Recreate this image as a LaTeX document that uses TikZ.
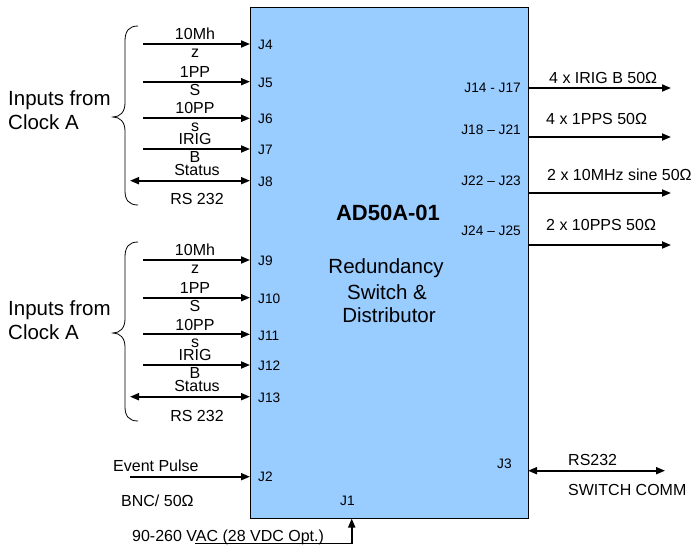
\documentclass[tikz,border=0pt]{standalone}
\usepackage{fontspec}
\setmainfont{Liberation Sans}
\usetikzlibrary{arrows.meta}
\definecolor{boxblue}{HTML}{99CCFF}
\begin{document}
\begin{tikzpicture}[x=1pt,y=-1pt,
  lbl/.style={inner sep=0pt, font=\fontsize{16}{19}\selectfont},
  big/.style={inner sep=0pt, font=\fontsize{20.5}{24}\selectfont},
  jl/.style={inner sep=0pt, font=\fontsize{13.7}{16}\selectfont},
  arr/.style={line width=1.8pt, -{Triangle[length=9pt,width=7pt]}},
  darr/.style={line width=1.8pt, {Triangle[length=9pt,width=7pt]}-{Triangle[length=9pt,width=7pt]}},
  bracepath/.style={line width=0.8pt}]
\useasboundingbox (0,0) rectangle (695,545);
% main box
\node[draw, fill=boxblue, line width=1pt, minimum width=278pt, minimum height=511pt,
      anchor=north west, inner sep=0pt] (box) at (250,7) {};
\node[inner sep=0pt, anchor=base, font=\fontsize{22}{26}\selectfont\bfseries] (title) at (388,220.7) {AD50A-01};
\node[big, anchor=base] (t1) at (386,273) {Redundancy};
\node[big, anchor=base] (t2) at (387,299) {Switch \&};
\node[big, anchor=base] (t3) at (389,322.7) {Distributor};
% input groups
\foreach \g/\dy/\ja/\jb/\jc/\jd/\je in {1/0/J4/J5/J6/J7/J8, 2/216/J9/J10/J11/J12/J13}{
  \foreach \y/\j/\top/\bot [count=\i] in {44/\ja/10Mh/z, 81.7/\jb/1PP/S, 118.3/\jc/10PP/s, 149/\jd/IRIG/B}{
    \coordinate (s\g\i) at (143,\y+\dy);
    \coordinate (e\g\i) at (250,\y+\dy);
    \draw[arr] (s\g\i) -- (e\g\i);
    \node[lbl, anchor=base] (u\g\i) at (195,\y+\dy-4.3) {\top};
    \node[lbl, anchor=base] (d\g\i) at (195,\y+\dy+13.5) {\bot};
    \node[jl, anchor=base west] (j\g\i) at (258,\y+\dy+5.7) {\j};
  }
  \coordinate (s\g5) at (130,180.7+\dy);
  \coordinate (e\g5) at (250,180.7+\dy);
  \draw[darr] (s\g5) -- (e\g5);
  \node[lbl, anchor=base] (st\g) at (197,175.5+\dy) {Status};
  \node[lbl, anchor=base] (rs\g) at (197,205+\dy) {RS 232};
  \node[jl, anchor=base west] (j\g5) at (258,186.4+\dy) {\je};
  \draw[bracepath] (138,26+\dy) .. controls (129,26+\dy) and (125,31+\dy) .. (125,41+\dy)
    -- (125,103+\dy) .. controls (125,112+\dy) and (120,117+\dy) .. (113,117+\dy)
    .. controls (120,117+\dy) and (125,122+\dy) .. (125,131+\dy)
    -- (125,191+\dy) .. controls (125,200+\dy) and (129,205+\dy) .. (138,205+\dy);
}
\node[big, anchor=base west] (in1) at (8,106) {Inputs from};
\node[big, anchor=base west] (ck1) at (8,130) {Clock A};
\node[big, anchor=base west] (in2) at (8,315) {Inputs from};
\node[big, anchor=base west] (ck2) at (8,339) {Clock A};
% outputs
\foreach \y/\lt/\ly/\lx [count=\i] in {88/4 x IRIG B 50Ω/83.3/549, 137/4 x 1PPS 50Ω/125/546, 193/2 x 10MHz sine 50Ω/180.7/547, 245/2 x 10PPS 50Ω/230/546}{
  \coordinate (os\i) at (528,\y);
  \coordinate (oe\i) at (671,\y);
  \draw[arr] (os\i) -- (oe\i);
  \node[lbl, anchor=base west] (ol\i) at (\lx,\ly) {\lt};
}
\node[jl, anchor=base east] (oj1) at (521,93) {J14 - J17};
\node[jl, anchor=base east] (oj2) at (521,135) {J18 – J21};
\node[jl, anchor=base east] (oj3) at (521,186) {J22 – J23};
\node[jl, anchor=base east] (oj4) at (521,235) {J24 – J25};
% event pulse
\coordinate (ev1) at (130,476.7);
\coordinate (ev2) at (250,476.7);
\draw[arr] (ev1) -- (ev2);
\node[lbl, anchor=base west] (evl) at (113,471.7) {Event Pulse};
\node[lbl, anchor=base west] (bnc) at (121,506.7) {BNC/ 50Ω};
\node[jl, anchor=base west] (j2) at (258,481.7) {J2};
% J1 power
\node[jl, anchor=base west] (j1) at (340,505.7) {J1};
\node[lbl, anchor=base west] (pw) at (132,541.5) {90-260 VAC (28 VDC Opt.)};
\coordinate (p0) at (195,543.5);
\coordinate (p1) at (351.7,543.5);
\coordinate (p2) at (351.7,518.5);
\draw[line width=1pt] (p0) -- (p1);
\draw[arr] (p1) -- (p2);
% J3
\node[jl, anchor=base west] (j3) at (497,468) {J3};
\coordinate (r1) at (528,470.7);
\coordinate (r2) at (665,470.7);
\draw[darr] (r1) -- (r2);
\node[lbl, anchor=base west] (rsl) at (568,465) {RS232};
\node[lbl, anchor=base west] (sw) at (568,495) {SWITCH COMM};
\end{tikzpicture}
\end{document}
